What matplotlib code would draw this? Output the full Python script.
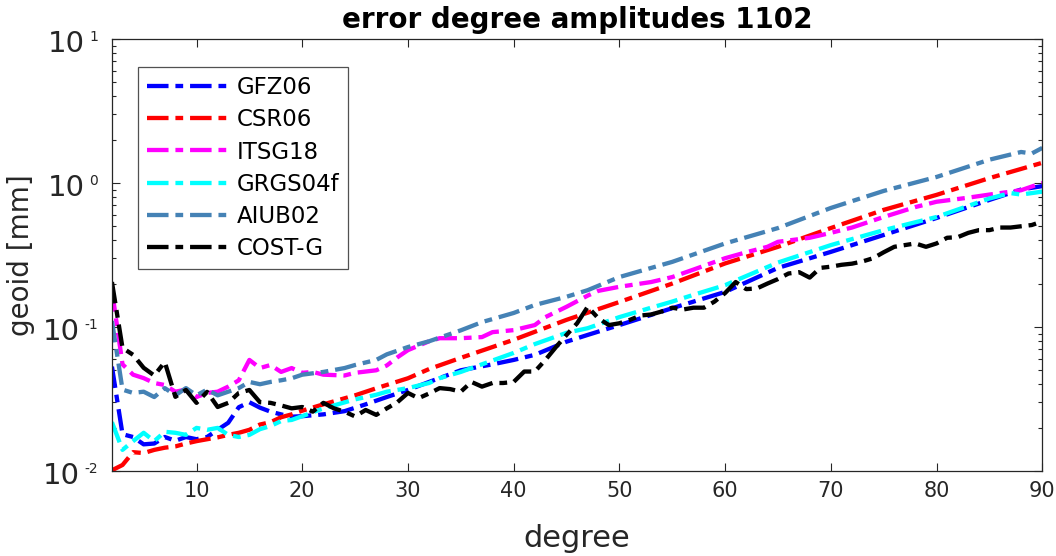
import matplotlib
matplotlib.use("Agg")
import matplotlib.pyplot as plt
from matplotlib.ticker import FixedLocator, LogLocator, NullFormatter

plt.rcParams['font.family'] = ['DejaVu Sans']

# degree / value pairs
gfz_deg = [2, 3, 4, 5, 6, 7, 8, 9, 10, 11, 12, 13, 14, 15, 16, 17, 18, 19, 20,
           22, 24, 26, 28, 30, 32, 35, 38, 40, 42, 45, 47, 50, 55, 60, 65, 70,
           75, 80, 85, 88, 90]
gfz_val = [0.053, 0.018, 0.0172, 0.0153, 0.0155, 0.0172, 0.0162, 0.0172, 0.0166,
           0.0172, 0.0193, 0.0216, 0.0277, 0.030, 0.0275, 0.0258, 0.0247, 0.0238,
           0.024, 0.0247, 0.026, 0.029, 0.0326, 0.0365, 0.0415, 0.050, 0.055,
           0.059, 0.064, 0.079, 0.088, 0.103, 0.135, 0.175, 0.257, 0.332, 0.435,
           0.571, 0.762, 0.90, 0.95]

csr_deg = [2, 3, 4, 5, 6, 7, 8, 9, 10, 11, 12, 13, 14, 15, 16, 17, 18, 19, 20,
           22, 25, 27, 30, 32, 35, 40, 45, 50, 55, 60, 65, 70, 75, 80, 85, 90]
csr_val = [0.0101, 0.011, 0.0135, 0.0133, 0.014, 0.0145, 0.0148, 0.0155, 0.0161,
           0.0166, 0.0171, 0.0178, 0.0184, 0.0193, 0.021, 0.0218, 0.0236, 0.0247,
           0.0262, 0.029, 0.0335, 0.0375, 0.044, 0.051, 0.061, 0.0814, 0.112,
           0.149, 0.20, 0.276, 0.36, 0.486, 0.65, 0.826, 1.08, 1.38]

itsg_deg = [2, 3, 4, 5, 6, 7, 8, 9, 10, 11, 12, 13, 14, 15, 16, 17, 18, 19, 20,
            21, 22, 24, 25, 27, 28, 29, 30, 32, 33, 35, 37, 38, 40, 42, 43, 45,
            47, 48, 50, 53, 55, 57, 60, 62, 64, 65, 68, 70, 72, 75, 78, 80, 83,
            85, 88, 90]
itsg_val = [0.18, 0.055, 0.0466, 0.0441, 0.0408, 0.0395, 0.0355, 0.0367, 0.0326,
            0.0348, 0.0355, 0.0385, 0.0426, 0.059, 0.0518, 0.0544, 0.0487, 0.0518,
            0.048, 0.0487, 0.0466, 0.046, 0.048, 0.050, 0.054, 0.0615, 0.069,
            0.0795, 0.0835, 0.0835, 0.085, 0.092, 0.095, 0.103, 0.117, 0.138,
            0.165, 0.178, 0.19, 0.205, 0.222, 0.25, 0.30, 0.33, 0.36, 0.39, 0.416,
            0.45, 0.49, 0.58, 0.68, 0.74, 0.79, 0.83, 0.89, 1.0]

grgs_deg = [2, 3, 4, 5, 6, 7, 8, 9, 10, 11, 12, 13, 14, 15, 16, 17, 18, 19, 20,
            22, 23, 25, 27, 28, 30, 32, 33, 35, 37, 40, 42, 45, 47, 50, 53, 55,
            57, 60, 61, 65, 70, 75, 80, 85, 87, 88, 90]
grgs_val = [0.0218, 0.014, 0.0161, 0.0184, 0.0161, 0.0187, 0.0184, 0.0178, 0.0199,
            0.0193, 0.0199, 0.0178, 0.0172, 0.0178, 0.0195, 0.0205, 0.0222, 0.0226,
            0.024, 0.0272, 0.0285, 0.0314, 0.0338, 0.0355, 0.0376, 0.0408, 0.0441,
            0.0487, 0.055, 0.066, 0.076, 0.091, 0.098, 0.117, 0.136, 0.15, 0.167,
            0.195, 0.21, 0.28, 0.37, 0.47, 0.58, 0.78, 0.85, 0.83, 0.87]

aiub_deg = [2, 3, 4, 5, 6, 7, 8, 9, 10, 11, 12, 13, 14, 15, 16, 17, 18, 19, 20,
            22, 24, 25, 27, 28, 30, 32, 35, 37, 40, 42, 45, 47, 50, 55, 60, 65,
            70, 75, 80, 85, 88, 89, 90]
aiub_val = [0.11, 0.0367, 0.0348, 0.0355, 0.0326, 0.0376, 0.0335, 0.0376, 0.0335,
            0.0367, 0.0335, 0.0355, 0.0376, 0.0415, 0.040, 0.0415, 0.0426, 0.044,
            0.0466, 0.0487, 0.0518, 0.0544, 0.059, 0.0645, 0.0725, 0.0795, 0.0947,
            0.108, 0.125, 0.142, 0.162, 0.18, 0.222, 0.283, 0.38, 0.486, 0.67,
            0.88, 1.1, 1.45, 1.64, 1.6, 1.75]

cost_deg = list(range(2, 91))
cost_val = [0.205, 0.0715, 0.064, 0.052, 0.046, 0.057, 0.0327, 0.0365, 0.0297,
            0.0354, 0.0278, 0.0297, 0.0348, 0.0365, 0.030, 0.0297, 0.0285, 0.0272,
            0.0278, 0.0258, 0.0297, 0.0272, 0.0258, 0.0239, 0.0265, 0.0245, 0.0272,
            0.030, 0.0348, 0.032, 0.0345, 0.0376, 0.037, 0.0355, 0.0415, 0.0385,
            0.0408, 0.0408, 0.0415, 0.049, 0.049, 0.059, 0.0725, 0.088, 0.106,
            0.138, 0.115, 0.103, 0.106, 0.112, 0.12, 0.122, 0.128, 0.136, 0.132,
            0.136, 0.136, 0.15, 0.172, 0.205, 0.183, 0.185, 0.20, 0.215, 0.235,
            0.24, 0.22, 0.257, 0.262, 0.27, 0.275, 0.285, 0.30, 0.33, 0.36, 0.37,
            0.38, 0.36, 0.38, 0.416, 0.42, 0.45, 0.47, 0.47, 0.49, 0.49, 0.50,
            0.51, 0.54]

series = [
    ("GFZ06", gfz_deg, gfz_val, (0, 0, 1)),
    ("CSR06", csr_deg, csr_val, (1, 0, 0)),
    ("ITSG18", itsg_deg, itsg_val, (1, 0, 1)),
    ("GRGS04f", grgs_deg, grgs_val, (0, 1, 1)),
    ("AIUB02", aiub_deg, aiub_val, (0.27, 0.51, 0.71)),
    ("COST-G", cost_deg, cost_val, (0, 0, 0)),
]

# y tick labels drawn as "10" plus a small exponent, like the original
ytick_vals = [1e-2, 1e-1, 1e0, 1e1]
ytick_exp = ['-2', '-1', '0', '1']

grey = (0.15, 0.15, 0.15)

fig = plt.figure(figsize=(10.56, 5.56), dpi=100)
ax = fig.add_axes([0.106, 0.153, 0.881, 0.777])

for name, d, v, c in series:
    ax.plot(d, v, color=c, lw=3.1, ls=(0, (5, 1.6, 1.8, 1.6)), label=name)

ax.set_yscale('log')
ax.set_xlim(2, 90)
ax.set_ylim(1e-2, 1e1)
ax.xaxis.set_major_locator(FixedLocator([10, 20, 30, 40, 50, 60, 70, 80, 90]))
ax.yaxis.set_major_locator(FixedLocator(ytick_vals))
ax.yaxis.set_minor_locator(LogLocator(base=10, subs=range(2, 10)))
ax.yaxis.set_major_formatter(NullFormatter())
ax.yaxis.set_minor_formatter(NullFormatter())

ax.tick_params(which='both', direction='in', top=True, right=True,
               colors=grey, labelcolor=grey)
ax.tick_params(which='major', length=6, width=0.8)
ax.tick_params(which='minor', length=3, width=0.8)
ax.tick_params(axis='x', labelsize=15, pad=7)
for s in ax.spines.values():
    s.set_color(grey)
    s.set_linewidth(0.9)

ax.set_xlabel('degree', fontsize=22, color=grey, labelpad=17)
ax.set_ylabel('geoid [mm]', fontsize=20, color=grey, labelpad=52)
ax.set_title('error degree amplitudes 1102', fontsize=20, fontweight='bold',
             pad=8)

fig.canvas.draw()
rend = fig.canvas.get_renderer()
for v, e in zip(ytick_vals, ytick_exp):
    t = ax.annotate(e, xy=(0, v), xycoords=('axes fraction', 'data'),
                    xytext=(-10, 6.5), textcoords='offset points',
                    ha='right', va='top', fontsize=10, color=grey)
    w = t.get_window_extent(rend).width * 72 / fig.dpi
    ax.annotate('10', xy=(0, v), xycoords=('axes fraction', 'data'),
                xytext=(-10 - w - 3, -9.5), textcoords='offset points',
                ha='right', va='baseline', fontsize=21, color=grey)

leg = ax.legend(loc='upper left', bbox_to_anchor=(0.028, 0.935), fontsize=16.5,
                handlelength=3.6, frameon=True, fancybox=False, borderaxespad=0,
                labelspacing=0.40, handletextpad=0.3, borderpad=0.4)
leg.get_frame().set_edgecolor(grey)
leg.get_frame().set_linewidth(0.9)

fig.savefig('out.png', dpi=100)
